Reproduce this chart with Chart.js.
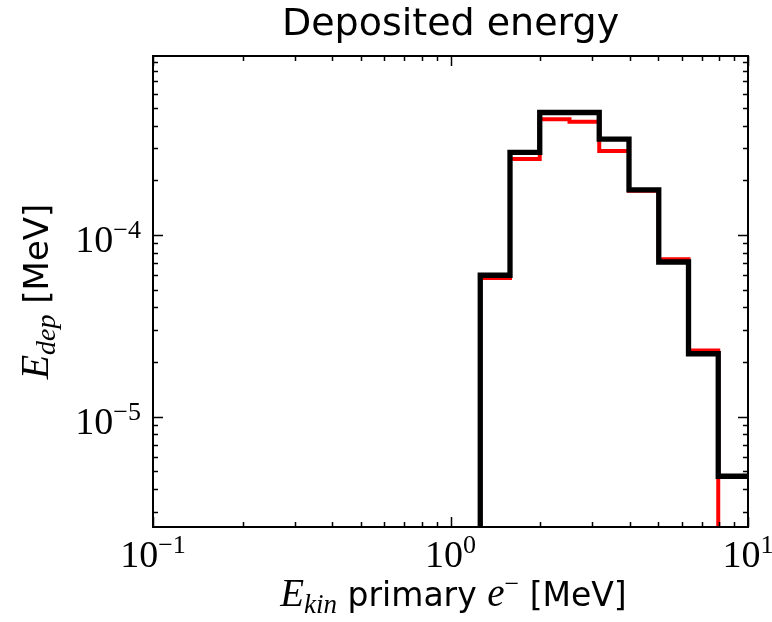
<!DOCTYPE html>
<html>
<head>
<meta charset="utf-8">
<script src="https://cdn.jsdelivr.net/npm/chart.js@4/dist/chart.umd.min.js"></script>
<style>
  html, body { margin: 0; padding: 0; background: #fff; }
  #wrap { width: 772px; height: 622px; }
</style>
</head>
<body>
<div id="wrap"><canvas id="chart" width="772" height="622"></canvas></div>
<script>
// -------- Data --------
// bin edges in MeV (10 log bins per decade, 1 to 10)
const binEdges = [1.0, 1.259, 1.585, 1.995, 2.512, 3.162, 3.981, 5.012, 6.310, 7.943, 10.0];
// deposited energy per bin in MeV, 0 = empty bin
const edepBlack = [0, 6.0e-5, 2.85e-4, 4.72e-4, 4.72e-4, 3.37e-4, 1.77e-4, 7.1e-5, 2.22e-5, 4.7e-6];
const edepRed   = [0, 5.8e-5, 2.62e-4, 4.33e-4, 4.2e-4, 2.9e-4, 1.75e-4, 7.35e-5, 2.31e-5, 0];

const xMajorTicks = [0.1, 1, 10];
const xTickExps = ['\u22121', '0', '1'];
const yMajorTicks = [1e-5, 1e-4];
const yTickExps = ['\u22125', '\u22124'];

const X_MIN = 0.1, X_MAX = 10;
const Y_MIN = 2.47e-6, Y_MAX = 9.66e-4;
const FLOOR = 1e-9; // empty bins end up below the axis and get clipped

// -------- Fonts --------
const SANS = '"DejaVu Sans", sans-serif';
const SERIF = '"Liberation Serif", serif';

// -------- Utils --------
function stepPoints(values) {
  const pts = values.map((v, i) => ({ x: binEdges[i], y: v > 0 ? v : FLOOR }));
  const last = values[values.length - 1];
  pts.push({ x: binEdges[binEdges.length - 1], y: last > 0 ? last : FLOOR });
  return pts;
}

function logTicks(min, max) {
  const out = [];
  const e0 = Math.floor(Math.log10(min)), e1 = Math.ceil(Math.log10(max));
  for (let e = e0; e <= e1; e++) {
    for (let m = 1; m <= 9; m++) {
      const v = m * Math.pow(10, e);
      if (v >= min * 0.999 && v <= max * 1.001) out.push({ v, major: m === 1 });
    }
  }
  return out;
}

// draw a list of text runs (mixed fonts / sub- and superscripts) on one line
function drawRuns(ctx, runs, x, y, align) {
  let w = 0;
  runs.forEach(r => { ctx.font = r.font; r.w = ctx.measureText(r.t).width; w += r.w; });
  let cx = align === 'center' ? x - w / 2 : align === 'right' ? x - w : x;
  runs.forEach(r => { ctx.font = r.font; ctx.fillText(r.t, cx, y + (r.dy || 0)); cx += r.w; });
}

function powerLabel(exp) {
  return [
    { t: '10', font: `38px ${SERIF}` },
    { t: exp, font: `26px ${SERIF}`, dy: -14 },
  ];
}

// -------- Axes / text plugin --------
const framePlugin = {
  id: 'frame',
  afterDraw(chart) {
    const ctx = chart.ctx;
    const a = chart.chartArea;
    const xs = chart.scales.x, ys = chart.scales.y;
    ctx.save();
    ctx.fillStyle = '#000';
    ctx.strokeStyle = '#000';

    // ticks, inward on all four sides
    ctx.lineWidth = 1.5;
    ctx.beginPath();
    logTicks(X_MIN, X_MAX).forEach(t => {
      const px = Math.round(xs.getPixelForValue(t.v)) + 0.5;
      const len = t.major ? 10 : 5;
      ctx.moveTo(px, a.bottom); ctx.lineTo(px, a.bottom - len);
      ctx.moveTo(px, a.top); ctx.lineTo(px, a.top + len);
    });
    logTicks(Y_MIN, Y_MAX).forEach(t => {
      const py = Math.round(ys.getPixelForValue(t.v)) + 0.5;
      const len = t.major ? 10 : 5;
      ctx.moveTo(a.left, py); ctx.lineTo(a.left + len, py);
      ctx.moveTo(a.right, py); ctx.lineTo(a.right - len, py);
    });
    ctx.stroke();

    // frame
    ctx.lineWidth = 2;
    ctx.strokeRect(a.left, a.top, a.right - a.left, a.bottom - a.top);

    // tick labels
    ctx.textAlign = 'left';
    ctx.textBaseline = 'alphabetic';
    xMajorTicks.forEach((v, i) => {
      drawRuns(ctx, powerLabel(xTickExps[i]), xs.getPixelForValue(v), a.bottom + 40, 'center');
    });
    yMajorTicks.forEach((v, i) => {
      drawRuns(ctx, powerLabel(yTickExps[i]), a.left - 12, ys.getPixelForValue(v) + 17, 'right');
    });

    // title
    drawRuns(ctx, [{ t: 'Deposited energy', font: `38px ${SANS}` }], (a.left + a.right) / 2, 35, 'center');

    // x axis label
    drawRuns(ctx, [
      { t: 'E', font: `italic 39px ${SERIF}` },
      { t: 'kin', font: `italic 27px ${SERIF}`, dy: 7 },
      { t: ' primary ', font: `33px ${SANS}` },
      { t: 'e', font: `italic 39px ${SERIF}` },
      { t: '\u2212', font: `26px ${SERIF}`, dy: -14 },
      { t: ' [MeV]', font: `33px ${SANS}` },
    ], (a.left + a.right) / 2 + 3, 606, 'center');

    // y axis label
    ctx.translate(48, (a.top + a.bottom) / 2);
    ctx.rotate(-Math.PI / 2);
    drawRuns(ctx, [
      { t: 'E', font: `italic 40px ${SERIF}` },
      { t: 'dep', font: `italic 28px ${SERIF}`, dy: 7 },
      { t: ' [MeV]', font: `34px ${SANS}` },
    ], 0, 0, 'center');
    ctx.restore();
  }
};

// -------- Chart --------
function histDataset(values, color, width) {
  return {
    data: stepPoints(values),
    stepped: 'before',
    borderColor: color,
    borderWidth: width,
    pointRadius: 0,
    fill: false,
    borderJoinStyle: 'miter',
    borderCapStyle: 'butt',
    clip: 0,
  };
}

new Chart(document.getElementById('chart'), {
  type: 'line',
  data: {
    datasets: [
      histDataset(edepBlack, '#000000', 5.3),
      histDataset(edepRed, '#ff0000', 4),
    ]
  },
  options: {
    responsive: false,
    animation: false,
    layout: { padding: { left: 153, right: 24, top: 56, bottom: 95 } },
    plugins: { legend: { display: false }, tooltip: { enabled: false } },
    scales: {
      x: { type: 'logarithmic', min: X_MIN, max: X_MAX, display: false },
      y: { type: 'logarithmic', min: Y_MIN, max: Y_MAX, display: false },
    }
  },
  plugins: [framePlugin]
});
</script>
</body>
</html>
